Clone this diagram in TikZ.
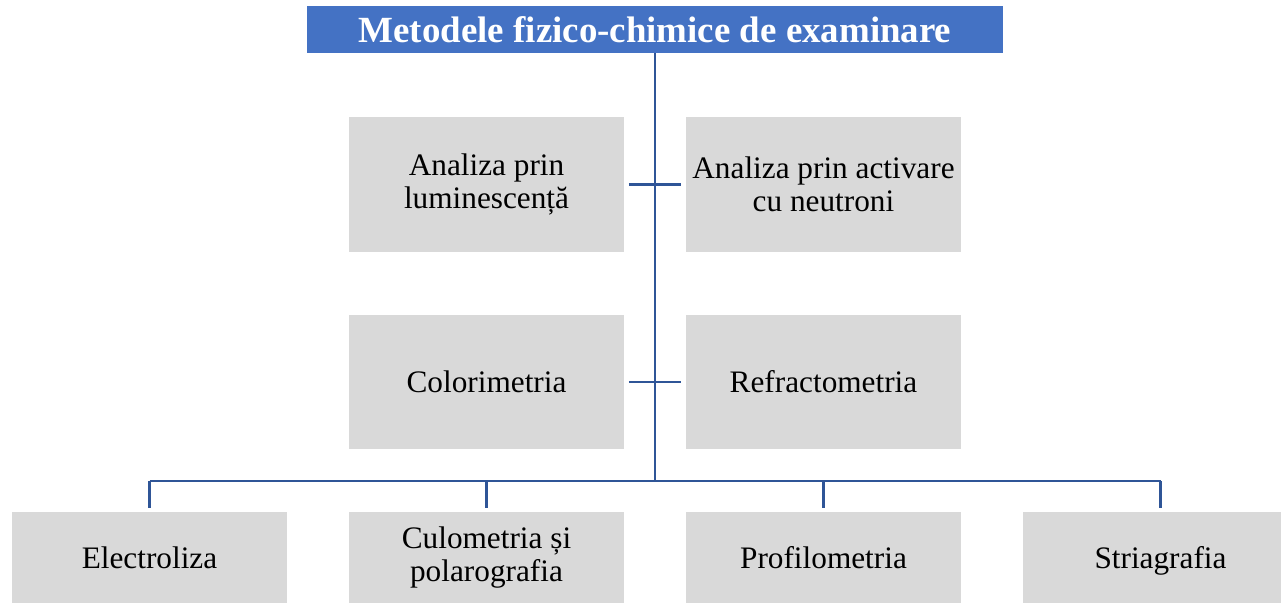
\documentclass[tikz,border=0pt]{standalone}
\usepackage{fontspec}
\setmainfont{Liberation Serif}
\usepackage{tikz}
\usetikzlibrary{positioning,calc}
\definecolor{titleblue}{HTML}{4472C4}
\definecolor{linkblue} {HTML}{2F5597}
\definecolor{boxgray}  {HTML}{D9D9D9}
\tikzset{
  % --- nodes
  head/.style  = {fill=titleblue, text=white, inner sep=0pt, align=center,
                  minimum width=13.92cm, minimum height=0.94cm,
                  font=\fontsize{21}{24}\selectfont\bfseries},
  meth/.style  = {fill=boxgray, text=black, inner sep=0pt, align=center,
                  minimum width=5.5cm, minimum height=2.7cm,
                  font=\fontsize{17.8}{18.7}\selectfont},
  lowsplit/.style = {meth, minimum height=1.82cm},
  low/.style   = {lowsplit, text depth=0pt},
  % --- edges
  link/.style  = {draw=linkblue, line width=1.5pt},
}
\begin{document}
\begin{tikzpicture}[x=0.02cm,y=-0.02cm]
  \useasboundingbox (0,0) rectangle (1281,603);
  \node[head] (title) at (655,29.5) {Metodele fizico-chimice de examinare};
  \node[meth] (lum) at (486.5,184.5) {Analiza prin\\luminescență};
  \node[meth] (act) at (823.5,184.5) {Analiza prin activare\\cu neutroni};
  \node[meth] (col) at (486.5,382) {Colorimetria};
  \node[meth] (ref) at (823.5,382) {Refractometria};
  \node[low] (ele) at (149.5,557.5) {Electroliza};
  \node[lowsplit] (cul) at (486.5,557.5) {Culometria și\\polarografia};
  \node[low] (pro) at (823.5,557.5) {Profilometria};
  \node[low] (str) at (1160.5,557.5) {Striagrafia};
  \coordinate (bus) at (655,481);
  % trunk and cross ticks
  \draw[link] (title.south) -- (bus);
  \foreach \a/\b in {lum/act,col/ref}
    \draw[link, shorten <=2.6pt, shorten >=2.6pt] (\a) -- (\b);
  % bottom bus and drops
  \draw[link] (ele.north |- bus) -- (str.north |- bus);
  \foreach \n in {ele,cul,pro,str}
    \draw[link, shorten >=2.3pt] (\n.north |- bus) -- (\n.north);
\end{tikzpicture}
\end{document}
